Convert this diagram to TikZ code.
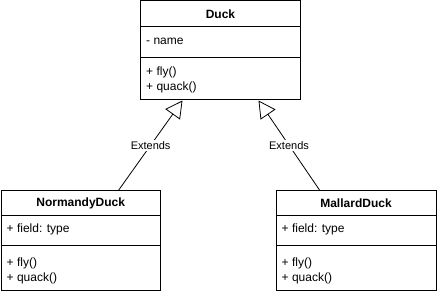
\documentclass[tikz,border=0pt]{standalone}
\usepackage{fontspec}
\setmainfont{Liberation Sans}
\usetikzlibrary{arrows.meta,calc}
\begin{document}
\begin{tikzpicture}[x=1pt,y=-1pt,
  classbox/.style={draw=black,line width=1pt,fill=white,inner sep=0pt,anchor=north west,
    minimum width=160pt,minimum height=99pt},
  divider/.style={draw=black,line width=1pt},
  title/.style={font=\fontsize{12}{14}\selectfont\bfseries,inner sep=0pt},
  member/.style={font=\fontsize{12}{14}\selectfont,inner sep=0pt,anchor=west},
  extends/.style={draw=black,line width=0.8pt,-{Triangle[open,length=17pt,width=18pt,line width=0.8pt]}},
  edgelabel/.style={font=\fontsize{11}{13}\selectfont,fill=white,inner sep=1.5pt,text=black}]
\useasboundingbox (0,0) rectangle (437,294);

% Duck (base class)
\node[classbox] (duck) at (140,0.5) {};
\draw[divider] ($(duck.north west)+(0,26)$) -- ($(duck.north east)+(0,26)$);
\draw[divider] ($(duck.north west)+(0,57)$) -- ($(duck.north east)+(0,57)$);
\node[title] (duckname) at ($(duck.north)+(0,13.5)$) {Duck};
\node[member] (duckattr) at ($(duck.north west)+(6,40.5)$) {- name};
\node[member] (duckfly) at ($(duck.north west)+(6,72)$) {+ fly()};
\node[member] (duckquack) at ($(duck.north west)+(6,87)$) {+ quack()};

% NormandyDuck
\node[classbox,minimum width=159.5pt,minimum height=100pt] (normandy) at (0.5,190) {};
\draw[divider] ($(normandy.north west)+(0,26)$) -- ($(normandy.north east)+(0,26)$);
\draw[divider] ($(normandy.north west)+(0,56)$) -- ($(normandy.north east)+(0,56)$);
\node[title] (normandyname) at ($(normandy.north)+(0,13.5)$) {NormandyDuck};
\node[member] (normandyattr) at ($(normandy.north west)+(6,39.5)$) {+ field: type};
\node[member] (normandyfly) at ($(normandy.north west)+(6,73)$) {+ fly()};
\node[member] (normandyquack) at ($(normandy.north west)+(6,88)$) {+ quack()};

% MallardDuck
\node[classbox,minimum width=160pt,minimum height=100pt] (mallard) at (275.5,190) {};
\draw[divider] ($(mallard.north west)+(0,26)$) -- ($(mallard.north east)+(0,26)$);
\draw[divider] ($(mallard.north west)+(0,56)$) -- ($(mallard.north east)+(0,56)$);
\node[title] (mallardname) at ($(mallard.north)+(0,13.5)$) {MallardDuck};
\node[member] (mallardattr) at ($(mallard.north west)+(6,39.5)$) {+ field: type};
\node[member] (mallardfly) at ($(mallard.north west)+(6,73)$) {+ fly()};
\node[member] (mallardquack) at ($(mallard.north west)+(6,88)$) {+ quack()};

% generalisation arrows
\draw[extends] ($(normandy.north)+(38,0)$) -- node[edgelabel] (ext1) {Extends} ($(duck.south)+(-38,0)$);
\draw[extends] ($(mallard.north)+(-36.5,0)$) -- node[edgelabel] (ext2) {Extends} ($(duck.south)+(38,0)$);
\end{tikzpicture}
\end{document}
